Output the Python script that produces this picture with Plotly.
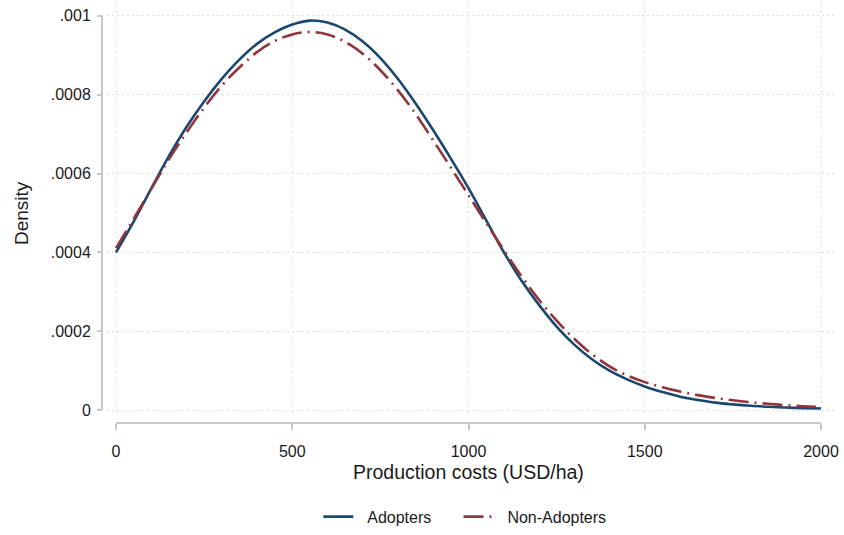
import plotly.graph_objects as go

# Kernel density estimates of production costs (USD/ha), read on a 50-unit grid
cost_grid = [0, 50, 100, 150, 200, 250, 300, 350, 400, 450, 500, 550, 600, 650,
             700, 750, 800, 850, 900, 950, 1000, 1050, 1100, 1150, 1200, 1250,
             1300, 1350, 1400, 1450, 1500, 1550, 1600, 1650, 1700, 1750, 1800,
             1850, 1900, 1950, 2000]

density_adopters = [0.000400, 0.000478, 0.000562, 0.000644, 0.000718, 0.000783,
                    0.000840, 0.000889, 0.000929, 0.000958, 0.000978, 0.000988,
                    0.000983, 0.000965, 0.000935, 0.000893, 0.000840, 0.000778,
                    0.000710, 0.000638, 0.000563, 0.000482, 0.000401, 0.000329,
                    0.000267, 0.000212, 0.000166, 0.000129, 0.000100, 0.000078,
                    0.000060, 0.000046, 0.000034, 0.000026, 0.000019, 0.0000145,
                    0.000011, 0.0000085, 0.0000065, 0.000005, 0.000004]

density_non_adopters = [0.000411, 0.000485, 0.000561, 0.000636, 0.000704, 0.000767,
                        0.000823, 0.000869, 0.000908, 0.000936, 0.000953, 0.000959,
                        0.000953, 0.000934, 0.000904, 0.000862, 0.000811, 0.000751,
                        0.000684, 0.000615, 0.000545, 0.000475, 0.000406, 0.000340,
                        0.000280, 0.000227, 0.000181, 0.000142, 0.000111, 0.000088,
                        0.000071, 0.000058, 0.000047, 0.000038, 0.000031, 0.000025,
                        0.000020, 0.000016, 0.0000125, 0.000010, 0.0000083]

x_ticks = [0, 500, 1000, 1500, 2000]
y_ticks = [0, 0.0002, 0.0004, 0.0006, 0.0008, 0.001]
y_tick_labels = ["0", ".0002", ".0004", ".0006", ".0008", ".001"]

NAVY = "#1a476f"
MAROON = "#90353b"
AXIS_GRAY = "#c8c8c8"
GRID_GRAY = "#dcdcdc"
FONT = "Liberation Sans, Arial, sans-serif"
TEXT = "#1a1a1a"
NBSP = "\u00a0"

fig = go.Figure()
fig.add_trace(go.Scatter(
    x=cost_grid, y=density_adopters, name=NBSP * 2 + "Adopters" + NBSP * 5,
    mode="lines", line=dict(color=NAVY, width=2.6, shape="spline", smoothing=1.0),
))
fig.add_trace(go.Scatter(
    x=cost_grid, y=density_non_adopters, name=NBSP * 2 + "Non-Adopters",
    mode="lines", line=dict(color=MAROON, width=2.6, shape="spline", smoothing=1.0,
                            dash="20px,6px,2px,6px"),
))

# Axis lines span only the tick range and sit detached from the plot region
fig.add_shape(type="line", xref="x", yref="paper", x0=0, x1=2000, y0=0, y1=0,
              line=dict(color=AXIS_GRAY, width=2))
fig.add_shape(type="line", xref="paper", yref="y", x0=0, x1=0, y0=0, y1=0.001,
              line=dict(color=AXIS_GRAY, width=2))

fig.add_annotation(text="Density", xref="paper", yref="y", x=-0.109, y=0.0005,
                   textangle=-90, showarrow=False, xanchor="center", yanchor="middle",
                   font=dict(family=FONT, size=19, color=TEXT))
fig.add_annotation(text="Production costs (USD/ha)", xref="x", yref="paper",
                   x=1000, y=-0.115, showarrow=False, xanchor="center", yanchor="middle",
                   font=dict(family=FONT, size=19.5, color=TEXT))

fig.update_layout(
    width=844, height=535,
    margin=dict(l=102, r=9, t=1, b=108),
    paper_bgcolor="white", plot_bgcolor="white",
    font=dict(family=FONT, size=16, color=TEXT),
    showlegend=True,
    legend=dict(orientation="h", x=0.495, xanchor="center", y=-0.222, yanchor="middle",
                font=dict(family=FONT, size=16, color=TEXT), itemwidth=30,
                bgcolor="rgba(0,0,0,0)"),
    xaxis=dict(
        domain=[5 / 733, 1], range=[-25.53, 2039.7], anchor="free", position=0,
        tickvals=x_ticks, ticktext=[str(v) for v in x_ticks],
        ticks="outside", ticklen=6, tickwidth=2, tickcolor=AXIS_GRAY,
        ticklabelstandoff=8,
        showline=False, zeroline=False,
        showgrid=True, gridcolor=GRID_GRAY, gridwidth=1, griddash="2px,3px",
        tickfont=dict(family=FONT, size=16, color=TEXT),
    ),
    yaxis=dict(
        domain=[10 / 426, 1], range=[-0.00000754, 0.0010377], anchor="free", position=0,
        tickvals=y_ticks, ticktext=y_tick_labels,
        ticks="outside", ticklen=5, tickwidth=2, tickcolor=AXIS_GRAY,
        ticklabelstandoff=3,
        showline=False, zeroline=False,
        showgrid=True, gridcolor=GRID_GRAY, gridwidth=1, griddash="2px,3px",
        tickfont=dict(family=FONT, size=16, color=TEXT),
    ),
)

fig.write_html("out.html")
